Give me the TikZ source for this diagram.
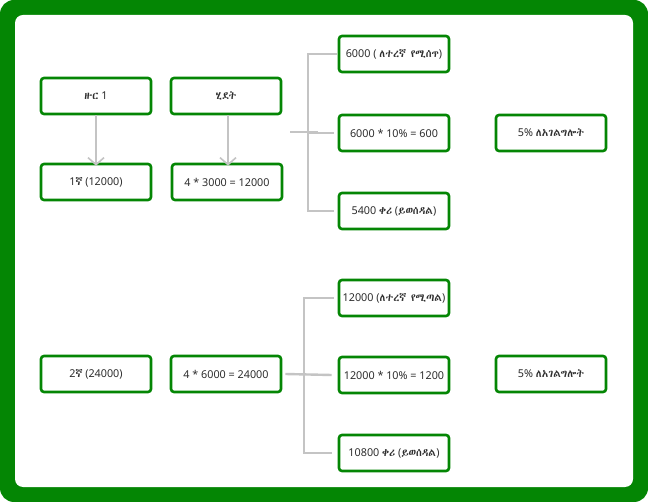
\documentclass[tikz,border=0pt]{standalone}
\usepackage{fontspec}
\setmainfont{Noto Sans}
\IfFontExistsTF{Abyssinica SIL}{\newfontfamily\eth[Scale=0.98]{Abyssinica SIL}}{%
  \IfFontExistsTF{FreeSerif}{\newfontfamily\eth[Scale=0.98]{FreeSerif}}{\newfontfamily\eth{Noto Sans}}}
\usetikzlibrary{arrows.meta}
\definecolor{frame}{RGB}{4,134,4}
\definecolor{conn}{RGB}{196,196,196}
\definecolor{txt}{RGB}{45,45,45}
\tikzset{
  box/.style={draw=frame, line width=2.6pt, rounded corners=3pt, fill=white,
    minimum width=110pt, minimum height=36pt, inner sep=0pt, font=\fontsize{10.8}{13}\selectfont, text=txt},
  link/.style={draw=conn, line width=2.4pt},
  arr/.style={link, -{Straight Barb[length=7pt,width=16pt,line width=1.6pt]}}
}
\begin{document}
\begin{tikzpicture}[x=1pt,y=-1pt]
\useasboundingbox (0,0) rectangle (648,502);
\fill[frame, rounded corners=14pt] (0,0) rectangle (648,502);
\fill[white, rounded corners=8pt] (15,15) rectangle (633,487);
% row 1
\node[box] (z1) at (96,96) {{\eth ዙር} 1};
\node[box] (hd) at (226,96) {{\eth ሂደት}};
\node[box] (f1) at (96,182) {1{\eth ኛ} (12000)};
\node[box] (c1) at (227,182) {4 * 3000 = 12000};
\node[box] (a1) at (394,54) {6000 ( {\eth ለተረኛ የሚሰጥ})};
\node[box] (b1) at (394,133) {6000 * 10\% = 600};
\node[box] (d1) at (394,211) {5400 {\eth ቀሪ} ({\eth ይወሰዳል})};
\node[box] (s1) at (551,133) {5\% {\eth ለአገልግሎት}};
% row 2
\node[box] (f2) at (96,374) {2{\eth ኛ} (24000)};
\node[box] (c2) at (226,374) {4 * 6000 = 24000};
\node[box] (a2) at (394,298) {12000 ({\eth ለተረኛ የሚጣል})};
\node[box] (b2) at (394,375) {12000 * 10\% = 1200};
\node[box] (d2) at (394,453) {10800 {\eth ቀሪ} ({\eth ይወሰዳል})};
\node[box] (s2) at (551,374) {5\% {\eth ለአገልግሎት}};
% arrows
\draw[arr] (z1.south) -- ([yshift=-3pt]f1.north);
\draw[arr] ([xshift=2pt]hd.south) -- ([xshift=1pt,yshift=-3pt]c1.north);
% fork 1
\coordinate (j1) at (308,133);
\draw[link] (290,132) -- (318,132);
\draw[link] (j1) -- ([xshift=-4pt]b1.west);
\draw[link] ([xshift=-1pt]a1.west) -| (308,133) |- ([xshift=-4pt]d1.west);
% fork 2
\draw[link] ([xshift=3pt]c2.east) -- ([xshift=-6pt]b2.west);
\draw[link] ([xshift=-4pt]a2.west) -| (304,375) |- ([xshift=-6pt]d2.west);
\end{tikzpicture}
\end{document}
